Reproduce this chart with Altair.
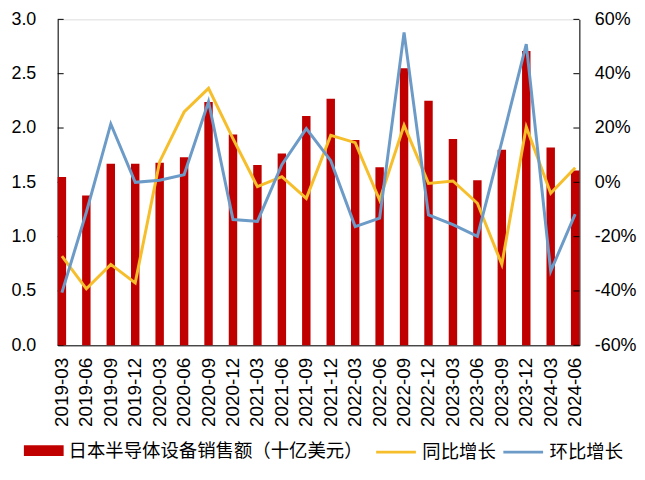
import altair as alt
import pandas as pd

quarters = ["2019-03", "2019-06", "2019-09", "2019-12", "2020-03", "2020-06", "2020-09", "2020-12",
            "2021-03", "2021-06", "2021-09", "2021-12", "2022-03", "2022-06", "2022-09", "2022-12",
            "2023-03", "2023-06", "2023-09", "2023-12", "2024-03", "2024-06"]
sales = [1.55, 1.38, 1.67, 1.67, 1.68, 1.73, 2.24, 1.94, 1.66, 1.765, 2.11, 2.27,
         1.89, 1.64, 2.55, 2.25, 1.90, 1.52, 1.80, 2.71, 1.82, 1.61]
yoy = [-27.2, -39.2, -30.2, -37.0, 7.6, 25.9, 34.6, 16.1, -1.6, 2.1, -5.9, 17.3,
       14.6, -6.5, 21.0, -0.4, 0.5, -7.7, -30.2, 20.4, -4.0, 5.4]
qoq = [-40.6, -11.0, 21.5, 0.0, 0.8, 2.8, 29.7, -13.7, -14.4, 6.5, 19.8, 8.0,
       -16.3, -13.2, 55.2, -12.0, -15.6, -19.9, 15.0, 50.9, -32.7, -11.7]
left_ticks = [0, 0.5, 1.0, 1.5, 2.0, 2.5, 3.0]
right_ticks = [-60, -40, -20, 0, 20, 40, 60]

bar_label = "日本半导体设备销售额（十亿美元）"
yoy_label = "同比增长"
qoq_label = "环比增长"

W, H = 525, 328
NUM_FONT = "Liberation Sans"
CJK_FONT = "Noto Sans CJK SC"

df = pd.DataFrame({"quarter": quarters, "sales": sales, yoy_label: yoy, qoq_label: qoq,
                   "bar_series": [bar_label] * len(quarters)})
left_tick_df = pd.DataFrame({"sales": left_ticks})
right_tick_df = pd.DataFrame({"pct": right_ticks})

xscale = alt.Scale(type="band", paddingInner=0.655, paddingOuter=0)
xaxis = alt.Axis(title=None, labelAngle=-90, labelFontSize=19, labelFont=NUM_FONT, labelColor="#000",
                 tickSize=0, labelPadding=12, domainColor="#000", domainWidth=1, grid=False)

left_scale = alt.Scale(domain=[0, 3], nice=False)
left_axis = alt.Axis(title=None, orient="left", values=left_ticks, format=".1f",
                     labelFontSize=18, labelFont=NUM_FONT, labelColor="#000",
                     tickSize=0, labelPadding=22, domainColor="#000", grid=False)
right_scale = alt.Scale(domain=[-60, 60], nice=False)
right_axis = alt.Axis(title=None, orient="right", values=right_ticks,
                      labelExpr="datum.value + '%'", labelFontSize=18, labelFont=NUM_FONT,
                      labelColor="#000", tickSize=0, labelPadding=15, domainColor="#000",
                      grid=False)

left_tick_marks = alt.Chart(left_tick_df).mark_rule(color="#000", strokeWidth=1).encode(
    y=alt.Y("sales:Q", scale=left_scale, axis=left_axis),
    x=alt.value(0), x2=alt.value(6),
)

bars = alt.Chart(df).mark_bar().encode(
    x=alt.X("quarter:N", sort=quarters, scale=xscale, axis=xaxis),
    y=alt.Y("sales:Q", scale=left_scale, axis=left_axis),
    color=alt.Color("bar_series:N", scale=alt.Scale(domain=[bar_label], range=["#C00000"]),
                    legend=alt.Legend(title=None, orient="none", legendX=-24, legendY=424,
                                      symbolType="M-2,-0.55H2V0.55H-2Z", symbolSize=400,
                                      symbolStrokeWidth=0, labelFont=CJK_FONT, labelFontSize=18.5,
                                      labelColor="#000", labelOffset=15, labelLimit=500)),
)

right_tick_marks = alt.Chart(right_tick_df).mark_rule(color="#000", strokeWidth=1).encode(
    y=alt.Y("pct:Q", scale=right_scale, axis=right_axis),
    x=alt.value(W - 6), x2=alt.value(W),
)

lines = alt.Chart(df).transform_fold([yoy_label, qoq_label], as_=["series", "pct"]).mark_line(
    strokeWidth=3
).encode(
    x=alt.X("quarter:N", sort=quarters, scale=xscale, axis=xaxis),
    y=alt.Y("pct:Q", scale=right_scale, axis=right_axis),
    color=alt.Color("series:N", sort=[yoy_label, qoq_label],
                    scale=alt.Scale(domain=[yoy_label, qoq_label], range=["#F5BE2A", "#6C9BC8"]),
                    legend=alt.Legend(title=None, orient="none", legendX=329, legendY=424,
                                      direction="horizontal", symbolType="M-2,0H2", symbolSize=400,
                                      symbolStrokeWidth=3, labelFont=CJK_FONT, labelFontSize=18.5,
                                      labelColor="#000", labelOffset=15, columnPadding=0,
                                      labelLimit=200)),
)

left = alt.layer(left_tick_marks, bars)
right = alt.layer(right_tick_marks, lines)

chart = alt.layer(left, right).resolve_scale(y="independent", color="independent").properties(
    width=W, height=H, padding={"left": 2, "top": 1, "right": 0, "bottom": 0}
).configure_view(stroke=None).configure(background="white")

chart.save("out.html", embed_options={"renderer": "svg", "actions": False})
